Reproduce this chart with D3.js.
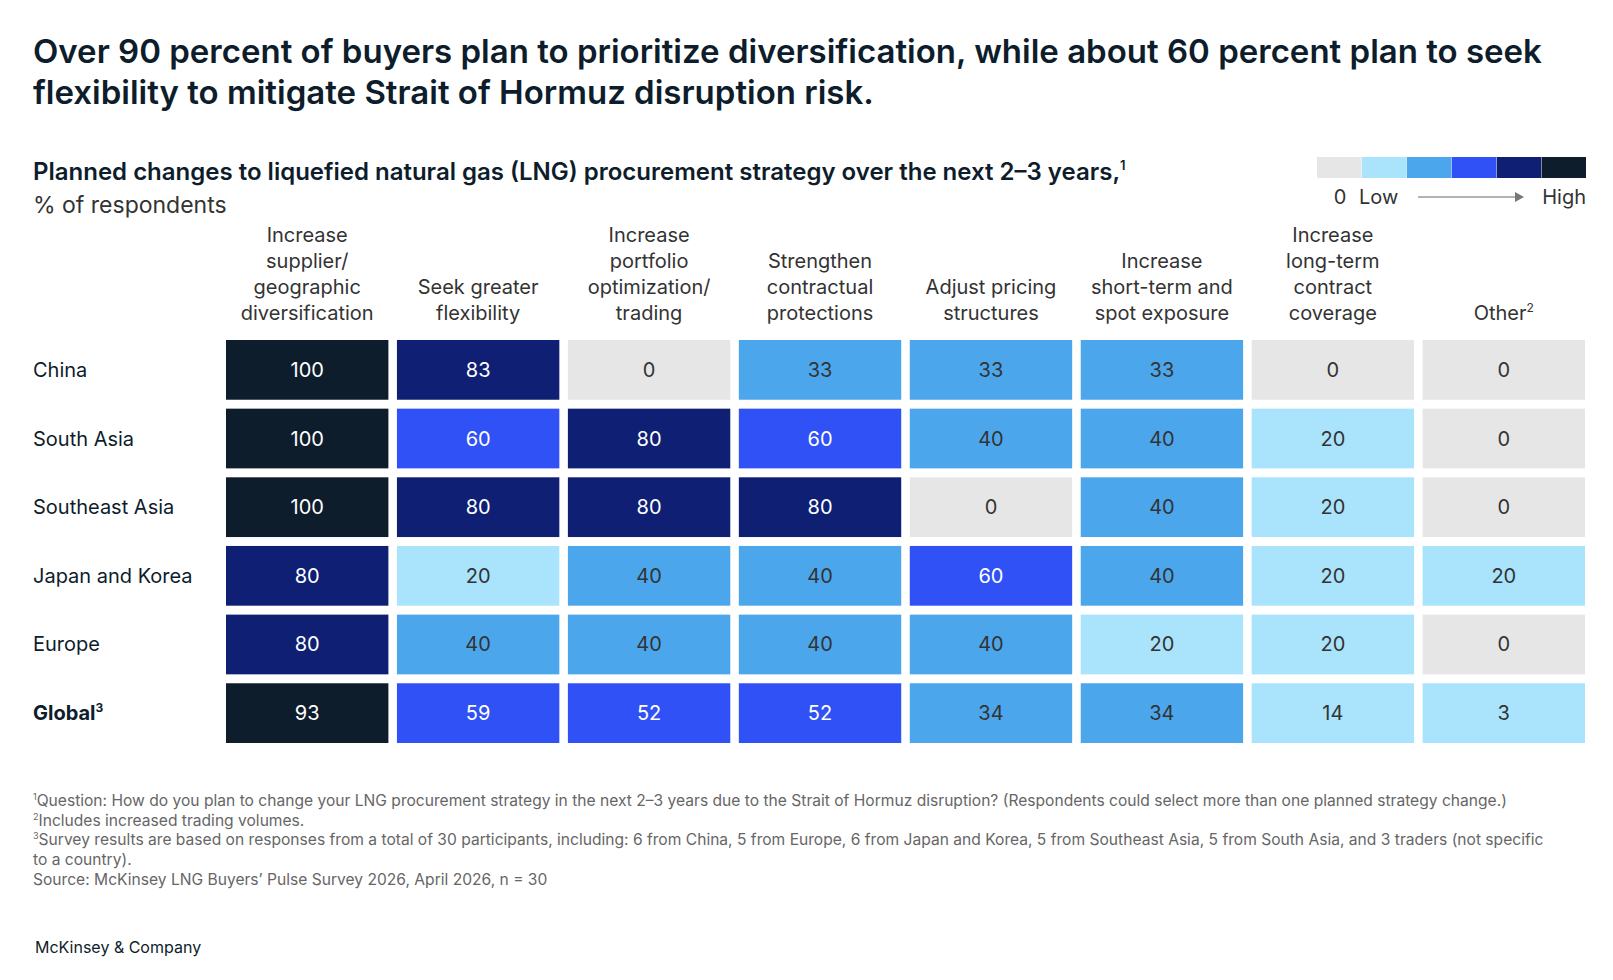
<!DOCTYPE html>
<html><head><meta charset="utf-8">
<script src="https://cdn.jsdelivr.net/npm/d3@7"></script>
<style>
body{margin:0;background:#fff;font-family:Inter,"Noto Sans",sans-serif;}
svg text{font-family:Inter,"Noto Sans",sans-serif;}
</style></head><body>
<svg id="chart" width="1613" height="980"></svg>
<script>
const rows = ['China', 'South Asia', 'Southeast Asia', 'Japan and Korea', 'Europe', 'Global'];
const columns = [
  ['Increase', 'supplier/', 'geographic', 'diversification'],
  ['Seek greater', 'flexibility'],
  ['Increase', 'portfolio', 'optimization/', 'trading'],
  ['Strengthen', 'contractual', 'protections'],
  ['Adjust pricing', 'structures'],
  ['Increase', 'short-term and', 'spot exposure'],
  ['Increase', 'long-term', 'contract', 'coverage'],
  ['Other']
];
const values = [
  [100, 83, 0, 33, 33, 33, 0, 0],
  [100, 60, 80, 60, 40, 40, 20, 0],
  [100, 80, 80, 80, 0, 40, 20, 0],
  [80, 20, 40, 40, 60, 40, 20, 20],
  [80, 40, 40, 40, 40, 20, 20, 0],
  [93, 59, 52, 52, 34, 34, 14, 3]
];
const bins = [1, 26, 51, 71, 90];
const palette = ['#e6e6e6', '#aae3fc', '#4ba6ec', '#3051f5', '#0f1f74', '#0e1d2c'];
const footnotes = [
  ['1', 'Question: How do you plan to change your LNG procurement strategy in the next 2–3 years due to the Strait of Hormuz disruption? (Respondents could select more than one planned strategy change.)'],
  ['2', 'Includes increased trading volumes.'],
  ['3', 'Survey results are based on responses from a total of 30 participants, including: 6 from China, 5 from Europe, 6 from Japan and Korea, 5 from Southeast Asia, 5 from South Asia, and 3 traders (not specific'],
  ['', ' to a country).'],
  ['', ' Source: McKinsey LNG Buyers’ Pulse Survey 2026, April 2026, n = 30']
];

const svg = d3.select('#chart');
const ink = '#0e1d2c';
const color = d3.scaleThreshold().domain(bins).range(palette);

// title
svg.append('text').attr('x', 33).attr('y', 63).attr('font-size', 33).attr('font-weight', 600).attr('fill', ink)
  .text('Over 90 percent of buyers plan to prioritize diversification, while about 60 percent plan to seek');
svg.append('text').attr('x', 33).attr('y', 104).attr('font-size', 33).attr('font-weight', 600).attr('fill', ink)
  .text('flexibility to mitigate Strait of Hormuz disruption risk.');

const sub = svg.append('text').attr('x', 33).attr('y', 180).attr('font-size', 24).attr('font-weight', 600).attr('fill', ink)
  .text('Planned changes to liquefied natural gas (LNG) procurement strategy over the next 2–3 years,');
sub.append('tspan').attr('font-size', 13).attr('dy', -10).text('1');
svg.append('text').attr('x', 33).attr('y', 213).attr('font-size', 23).attr('fill', '#333').text('% of respondents');

// legend
const lx = d3.scaleBand().domain(d3.range(palette.length)).range([1317, 1586]).paddingInner(0.01);
svg.selectAll('.leg').data(palette).join('rect')
  .attr('x', (d, i) => lx(i)).attr('y', 157).attr('width', lx.bandwidth()).attr('height', 21).attr('fill', d => d);
const lt = svg.append('g').attr('font-size', 20).attr('fill', '#333');
lt.append('text').attr('x', 1340).attr('y', 204).attr('text-anchor', 'middle').text('0');
lt.append('text').attr('x', 1359).attr('y', 204).text('Low');
lt.append('text').attr('x', 1586).attr('y', 204).attr('text-anchor', 'end').text('High');
svg.append('line').attr('x1', 1418).attr('x2', 1515).attr('y1', 197).attr('y2', 197).attr('stroke', '#999').attr('stroke-width', 1.5);
svg.append('path').attr('d', 'M1515,192L1524,197L1515,202Z').attr('fill', '#777');

// grid
const x = d3.scaleBand().domain(d3.range(columns.length)).range([226, 1585]).paddingInner(0.05);
const y = d3.scaleBand().domain(d3.range(rows.length)).range([340, 743]).paddingInner(0.13);

const heads = svg.append('g').attr('font-size', 20).attr('fill', '#333').attr('text-anchor', 'middle');
columns.forEach((lines, c) => {
  lines.forEach((l, k) => {
    const t = heads.append('text').attr('x', x(c) + x.bandwidth() / 2)
      .attr('y', 320 - (lines.length - 1 - k) * 26).text(l);
    if (c === 7) t.append('tspan').attr('font-size', 12).attr('dy', -8).text('2');
  });
});

const rl = svg.append('g').attr('font-size', 20).attr('fill', ink);
rows.forEach((r, i) => {
  const t = rl.append('text').attr('x', 33).attr('y', y(i) + y.bandwidth() / 2 + 7).text(r);
  if (i === rows.length - 1) {
    t.attr('font-weight', 700);
    t.append('tspan').attr('font-size', 12).attr('dy', -8).text('3');
  }
});

const cells = values.flatMap((row, i) => row.map((v, c) => ({i, c, v})));
const g = svg.selectAll('.cell').data(cells).join('g').attr('class', 'cell');
g.append('rect').attr('x', d => x(d.c)).attr('y', d => y(d.i))
  .attr('width', x.bandwidth()).attr('height', y.bandwidth()).attr('fill', d => color(d.v));
g.append('text').attr('x', d => x(d.c) + x.bandwidth() / 2).attr('y', d => y(d.i) + y.bandwidth() / 2 + 7)
  .attr('text-anchor', 'middle').attr('font-size', 20)
  .attr('fill', d => d.v >= 51 ? '#fff' : '#333').text(d => d.v);

// footnotes
const fn = svg.append('g').attr('font-size', 15.6).attr('fill', '#666');
footnotes.forEach(([s, t], k) => {
  const e = fn.append('text').attr('x', 33).attr('y', 806 + k * 19.7);
  if (s) e.append('tspan').attr('font-size', 9).attr('dy', -6).text(s);
  e.append('tspan').attr('dy', s ? 6 : 0).text(t);
});
svg.append('text').attr('x', 35).attr('y', 953).attr('font-size', 16).attr('fill', ink).text('McKinsey & Company');
</script></body></html>
